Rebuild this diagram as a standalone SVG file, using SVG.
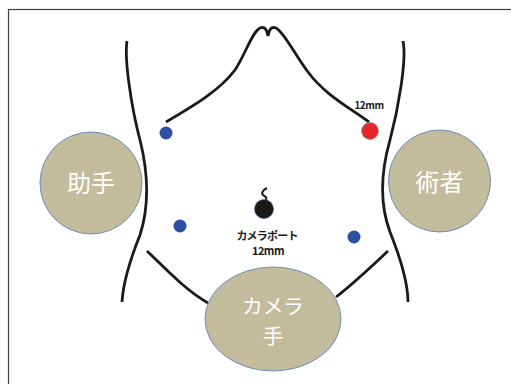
<svg xmlns="http://www.w3.org/2000/svg" width="511" height="384" viewBox="0 0 511 384">
  <style>
    .body { fill: none; stroke: #1a1a1a; stroke-width: 2.8; stroke-linecap: butt; }
    .staff { fill: #c2bc9c; stroke: #6f8fb5; stroke-width: 1; }
    .staff-label { fill: #ffffff; font-family: "Noto Sans CJK JP", "Noto Sans", sans-serif; text-anchor: middle; }
    .port { fill: #2f4fa3; }
    .small { fill: #1a1a1a; font-family: "Noto Sans CJK JP", "Liberation Sans", sans-serif; font-weight: bold; text-anchor: middle; }
  </style>
  <rect x="0" y="0" width="511" height="384" fill="#ffffff"/>
  <rect x="8.5" y="9.5" width="520" height="400" fill="none" stroke="#444444" stroke-width="1.2"/>

  <!-- body outline -->
  <g id="torso">
    <path class="body" d="M127,41 C124,60 132,110 140,140 C150,180 148,210 140,235 C128,265 123,285 122,302"/>
    <path class="body" d="M403,41 C407,60 398,110 390,140 C380,175 380,205 390,232 C402,262 408,285 408,302"/>
    <path class="body" d="M166,122 C195,105 220,90 235,70 C245,55 252,32 260,28 C265,26 267,30 268,36 C269,30 271,26 276,28 C284,32 295,55 308,72 C325,95 350,108 369,122"/>
    <path class="body" d="M147,251 C165,268 185,290 208,303"/>
    <path class="body" d="M388,251 C370,268 352,285 336,297"/>
  </g>

  <!-- staff positions -->
  <g id="assistant">
    <circle class="staff" cx="91" cy="183" r="51"/>
    <text class="staff-label" x="91" y="192" font-size="24">助手</text>
  </g>
  <g id="surgeon">
    <circle class="staff" cx="439.5" cy="181" r="51"/>
    <text class="staff-label" x="439.5" y="191" font-size="24">術者</text>
  </g>
  <g id="camera-operator">
    <ellipse class="staff" cx="273" cy="319" rx="68" ry="52"/>
    <text class="staff-label" x="273" y="314" font-size="20.5">カメラ</text>
    <text class="staff-label" x="273" y="344" font-size="20.5">手</text>
  </g>

  <!-- trocar ports -->
  <g id="ports">
    <circle class="port" cx="166" cy="133" r="6.5"/>
    <circle class="port" cx="180" cy="226" r="6.5"/>
    <circle class="port" cx="354" cy="237" r="6.5"/>
    <circle cx="370" cy="131" r="8.5" fill="#e8262a" stroke="#6f8fb5" stroke-width="0.6"/>
    <text class="small" x="369" y="109" font-size="10" letter-spacing="-0.5">12mm</text>
  </g>

  <g id="camera-port">
    <path d="M267,188 C263,190 261,193 263,195 C266,197 268,198 265,201" fill="none" stroke="#1a1a1a" stroke-width="2"/>
    <circle cx="264" cy="209" r="9.5" fill="#1a1a1a" stroke="#3a5a8a" stroke-width="0.6"/>
    <text class="small" x="267" y="240" font-size="11" letter-spacing="-0.8">カメラポート</text>
    <text class="small" x="268" y="255" font-size="11" letter-spacing="-0.5">12mm</text>
  </g>
</svg>
